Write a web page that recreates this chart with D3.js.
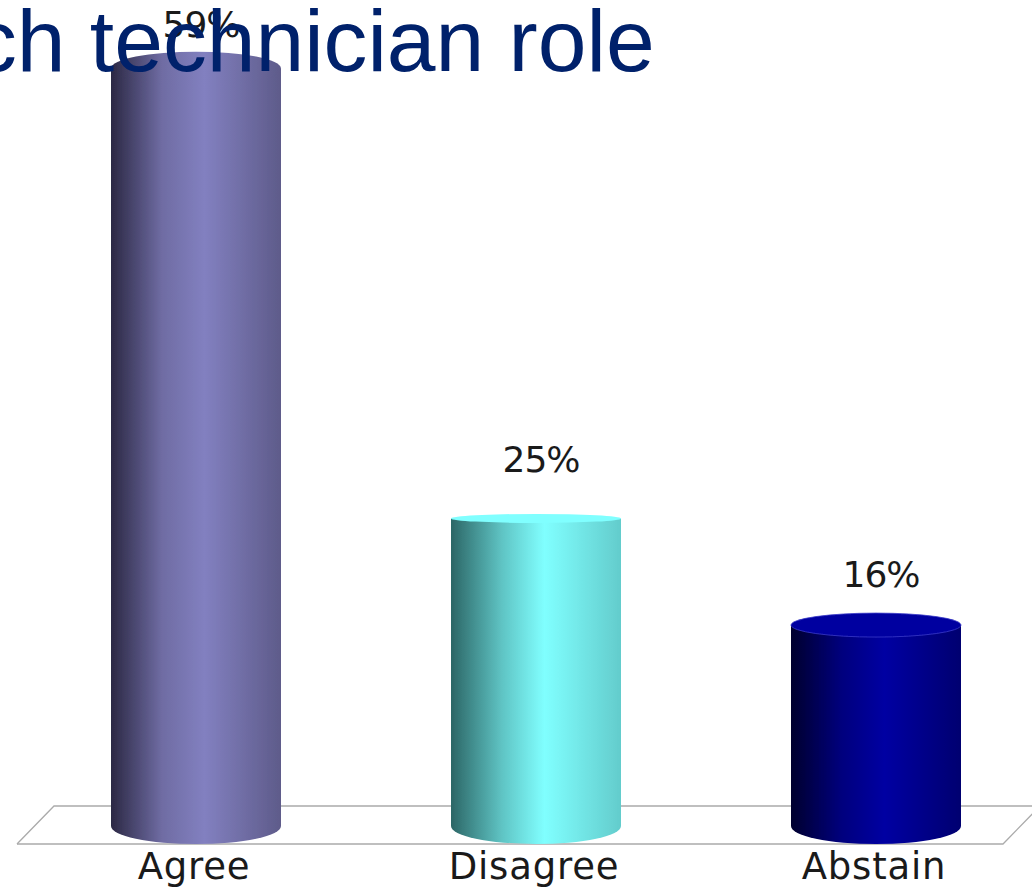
<!DOCTYPE html>
<html>
<head>
<meta charset="utf-8">
<script src="https://cdn.jsdelivr.net/npm/d3@7"></script>
<style>
  html, body { margin: 0; padding: 0; background: #fff; overflow: hidden; }
  svg { display: block; }
</style>
</head>
<body>
<script>
// Chart data
const categories = ["Agree", "Disagree", "Abstain"];
const shares = [59.4, 24.5, 15.8];

// Looks of each cylinder, kept apart from the values
const ramps = [
  ["#2b2844", "#6f6ca3", "#8280c0", "#5e5b8a"],
  ["#2c6666", "#5fc4c4", "#80ffff", "#63cccc"],
  ["#00002e", "#00007e", "#0000a2", "#000070"]
];
const capFills = ["url(#ramp0)", "#80ffff", "#0000a0"];
const capRims = ["none", "none", "#3a3ac8"];
const capRy = [17, 4.5, 12];
const capDrop = [-2, 4, 0];
const labelGap = [33.5, 42, 38];

// SVG variables
const width = 1032, height = 890;
const floorY = 826, bottomRy = 18;

const svg = d3.select("body").append("svg")
  .attr("width", width)
  .attr("height", height);

// Scales
const xScale = d3.scaleBand()
  .domain(categories)
  .range([111, 961])
  .paddingInner(0.5)
  .paddingOuter(0);
const yScale = d3.scaleLinear().domain([0, 60]).range([floorY, 63]);

// Gradients and the soft edge of the scanned picture
const defs = svg.append("defs");
ramps.forEach(function(ramp, i) {
  const grad = defs.append("linearGradient")
    .attr("id", "ramp" + i)
    .attr("x1", "0").attr("x2", "1")
    .attr("y1", "0").attr("y2", "0");
  [0, 0.3, 0.55, 1].forEach(function(offset, j) {
    grad.append("stop").attr("offset", offset).attr("stop-color", ramp[j]);
  });
});
defs.append("filter").attr("id", "soft")
  .append("feGaussianBlur").attr("stdDeviation", 0.5);

// Floor
svg.append("path")
  .attr("d", d3.line()([[17, 844], [54, 806], [1045, 806]]))
  .attr("fill", "none").attr("stroke", "#ababab").attr("stroke-width", 1.3);
svg.append("path")
  .attr("d", d3.line()([[17, 844], [1003, 844], [1040, 806]]))
  .attr("fill", "none").attr("stroke", "#ababab").attr("stroke-width", 1.3);

// Cylinders
const bars = svg.selectAll(".bar")
  .data(categories)
  .enter().append("g")
  .attr("class", "bar");

bars.append("path")
  .attr("filter", "url(#soft)")
  .attr("fill", function(d, i) { return "url(#ramp" + i + ")"; })
  .attr("d", function(d, i) {
    const x0 = xScale(d), w = xScale.bandwidth(), r = w / 2;
    const top = yScale(shares[i]) + capDrop[i];
    return "M" + x0 + "," + top +
      "L" + x0 + "," + floorY +
      "A" + r + "," + bottomRy + " 0 0 0 " + (x0 + w) + "," + floorY +
      "L" + (x0 + w) + "," + top + "Z";
  });

bars.append("ellipse")
  .attr("filter", "url(#soft)")
  .attr("cx", function(d) { return xScale(d) + xScale.bandwidth() / 2; })
  .attr("cy", function(d, i) { return yScale(shares[i]) + capDrop[i]; })
  .attr("rx", xScale.bandwidth() / 2)
  .attr("ry", function(d, i) { return capRy[i]; })
  .attr("fill", function(d, i) { return capFills[i]; })
  .attr("stroke", function(d, i) { return capRims[i]; })
  .attr("stroke-width", 0.8);

// Value labels
bars.append("text")
  .attr("x", function(d) { return xScale(d) + xScale.bandwidth() / 2 + 5; })
  .attr("y", function(d, i) { return yScale(shares[i]) - labelGap[i]; })
  .attr("text-anchor", "middle")
  .attr("font-family", "'DejaVu Sans', sans-serif")
  .attr("font-size", 36)
  .attr("letter-spacing", -1)
  .attr("fill", "#1a1a1a")
  .text(function(d, i) { return Math.round(shares[i]) + "%"; });

// Category axis
const xaxis = d3.axisBottom(xScale).tickSize(0).tickPadding(9);
const axisG = svg.append("g")
  .attr("transform", "translate(-2," + 844 + ")")
  .call(xaxis);
axisG.select(".domain").remove();
axisG.selectAll("text")
  .attr("font-family", "'DejaVu Sans', sans-serif")
  .attr("font-size", 37)
  .attr("letter-spacing", 0.8)
  .attr("fill", "#1a1a1a");

// Title, drawn over the chart and cut by the left edge
svg.append("text")
  .attr("x", -27)
  .attr("y", 71)
  .attr("font-family", "'Liberation Sans', Arial, sans-serif")
  .attr("font-size", 87.6)
  .attr("fill", "#00216b")
  .text("ch technician role");
</script>
</body>
</html>
